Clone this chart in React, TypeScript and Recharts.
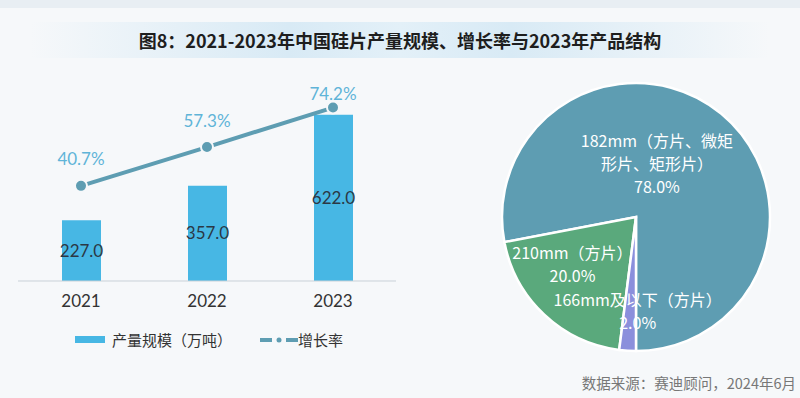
import {
  Bar,
  ComposedChart,
  LabelList,
  Line,
  Pie,
  PieChart,
  XAxis,
  YAxis,
  Cell,
} from "recharts";

const years = ["2021", "2022", "2023"];
const output = [227.0, 357.0, 622.0];
const growth = [40.7, 57.3, 74.2];

const pieNames = [
  ["182mm（方片、微矩", "形片、矩形片）"],
  ["210mm（方片）"],
  ["166mm及以下（方片）"],
];
const pieShares = [78.0, 20.0, 2.0];
const pieColors = ["#5e9db2", "#5aa97c", "#8b8fdc"];

// where each slice's text sits (fraction of radius, angle in degrees)
const pieLabelPos = [
  { r: 0.4, a: 67 },
  { r: 0.61, a: 219 },
  { r: 0.735, a: -89 },
];

const barData = years.map((y, i) => ({ year: y, output: output[i], growth: growth[i] }));
const pieData = pieNames.map((n, i) => ({ name: n.join(""), value: pieShares[i] }));

const FONT = "Lato, 'Noto Sans CJK SC', sans-serif";
const CJK = "'Noto Sans CJK SC', sans-serif";
const RAD = Math.PI / 180;

function GrowthLabel(props: any) {
  const { x, y, value } = props;
  return (
    <text
      x={x}
      y={Math.max(y - 27, 93)}
      textAnchor="middle"
      dominantBaseline="central"
      fill="#5fb4d8"
      fontSize={17}
      fontFamily={FONT}
    >
      {value.toFixed(1)}%
    </text>
  );
}

function PieLabel(props: any) {
  const { cx, cy, outerRadius, index } = props;
  const pos = pieLabelPos[index];
  const x = cx + outerRadius * pos.r * Math.cos(-pos.a * RAD);
  const y = cy + outerRadius * pos.r * Math.sin(-pos.a * RAD) - 5;
  const lines = [...pieNames[index], pieShares[index].toFixed(1) + "%"];
  const step = 23;
  const top = y - ((lines.length - 1) * step) / 2;
  return (
    <text textAnchor="middle" fill="#ffffff" fontSize={16} fontFamily={CJK}>
      {lines.map((l, i) => (
        <tspan key={i} x={x} y={top + i * step} dominantBaseline="central">
          {l}
        </tspan>
      ))}
    </text>
  );
}

function BarLegend() {
  return (
    <div style={{ display: "flex", alignItems: "center", fontFamily: CJK, fontSize: 15, color: "#333" }}>
      <span style={{ display: "inline-block", width: 30, height: 7, background: "#47b7e4", marginLeft: 75 }} />
      <span style={{ marginLeft: 7 }}>产量规模（万吨）</span>
      <svg width={38} height={10} style={{ marginLeft: 28 }}>
        <line x1={0} y1={5} x2={12} y2={5} stroke="#5e9db2" strokeWidth={4} />
        <circle cx={19} cy={5} r={2.5} fill="#5e9db2" />
        <line x1={26} y1={5} x2={38} y2={5} stroke="#5e9db2" strokeWidth={4} />
      </svg>
      <span>增长率</span>
    </div>
  );
}

export default function App() {
  return (
    <div
      style={{
        position: "absolute",
        left: 0,
        top: 0,
        width: 800,
        height: 398,
        background: "#f6f8fa",
        overflow: "hidden",
      }}
    >
      <div style={{ position: "absolute", left: 0, top: 0, width: 800, height: 8, background: "#e8eef3" }} />
      <div
        style={{
          position: "absolute",
          left: 30,
          top: 22,
          width: 740,
          height: 36,
          background:
            "linear-gradient(90deg, rgba(214,232,243,0) 0%, #d8eaf5 35%, #e3f0f8 50%, #d8eaf5 65%, rgba(214,232,243,0) 100%)",
        }}
      />
      <div
        style={{
          position: "absolute",
          left: 0,
          top: 22,
          width: 800,
          height: 36,
          lineHeight: "36px",
          textAlign: "center",
          fontFamily: CJK,
          fontWeight: 700,
          fontSize: 18,
          color: "#1e1e1e",
        }}
      >
        图8：2021-2023年中国硅片产量规模、增长率与2023年产品结构
      </div>

      <div style={{ position: "absolute", left: 0, top: 0 }}>
        <ComposedChart
          width={420}
          height={360}
          data={barData}
          margin={{ top: 94, right: 24, bottom: 49, left: 18 }}
        >
          <XAxis
            dataKey="year"
            axisLine={{ stroke: "#c9d1d8" }}
            tickLine={false}
            tickSize={0}
            tickMargin={14}
            tick={{ fill: "#333", fontSize: 17, fontFamily: FONT }}
            height={30}
          />
          <YAxis yAxisId="left" domain={[0, 700]} hide width={0} />
          <YAxis yAxisId="right" orientation="right" domain={[0, 80]} hide width={0} />
          <Bar yAxisId="left" dataKey="output" fill="#47b7e4" barSize={39} isAnimationActive={false}>
            <LabelList
              dataKey="output"
              position="center"
              formatter={(v: any) => Number(v).toFixed(1)}
              fill="#2b3845"
              fontSize={17}
              fontFamily={FONT}
            />
          </Bar>
          <Line
            yAxisId="right"
            dataKey="growth"
            stroke="#5e9db2"
            strokeWidth={4}
            dot={{ r: 6, fill: "#5e9db2", stroke: "#f6f8fa", strokeWidth: 2 }}
            isAnimationActive={false}
          >
            <LabelList dataKey="growth" content={<GrowthLabel />} />
          </Line>
        </ComposedChart>
      </div>

      <div style={{ position: "absolute", left: 0, top: 329, width: 420 }}>
        <BarLegend />
      </div>

      <div style={{ position: "absolute", left: 480, top: 60 }}>
        <PieChart width={320} height={320}>
          <Pie
            data={pieData}
            dataKey="value"
            cx={151}
            cy={152}
            outerRadius={134}
            startAngle={-90}
            endAngle={270}
            stroke="#ffffff"
            strokeWidth={2.5}
            label={PieLabel}
            labelLine={false}
            isAnimationActive={false}
          >
            {pieData.map((d, i) => (
              <Cell key={d.name} fill={pieColors[i]} />
            ))}
          </Pie>
        </PieChart>
      </div>

      <div
        style={{
          position: "absolute",
          right: 4,
          top: 373,
          fontFamily: CJK,
          fontSize: 14.5,
          color: "#777",
          lineHeight: "20px",
        }}
      >
        数据来源：赛迪顾问，2024年6月
      </div>
    </div>
  );
}
